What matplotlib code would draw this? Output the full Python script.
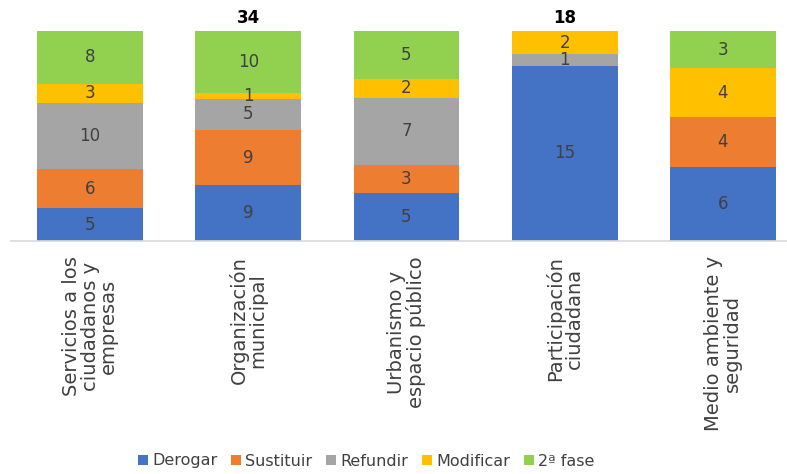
import matplotlib

matplotlib.use("Agg")
import matplotlib.pyplot as plt
import numpy as np

plt.rcParams["font.family"] = ["DejaVu Sans"]

categories = [
    "Servicios a los\nciudadanos y\nempresas",
    "Organización\nmunicipal",
    "Urbanismo y\nespacio público",
    "Participación\nciudadana",
    "Medio ambiente y\nseguridad",
]
series = ["Derogar", "Sustituir", "Refundir", "Modificar", "2ª fase"]
derogar = [5, 9, 5, 15, 6]
sustituir = [6, 9, 3, 0, 4]
refundir = [10, 5, 7, 1, 0]
modificar = [3, 1, 2, 2, 4]
segunda_fase = [8, 10, 5, 0, 3]
show_total = [False, True, False, True, False]

COLORS = ["#4472C4", "#ED7D31", "#A5A5A5", "#FFC000", "#92D050"]
TEXT = "#404040"

values = np.array([derogar, sustituir, refundir, modificar, segunda_fase], dtype=float)
totals = values.sum(axis=0)
pct = values / totals * 100

fig = plt.figure(figsize=(7.87, 4.74), dpi=100)
ax = fig.add_axes([11 / 787, 233 / 474, 791 / 787, 210 / 474])

x = np.arange(len(categories))
bottom = np.zeros(len(categories))
for i, name in enumerate(series):
    bars = ax.bar(x, pct[i], bottom=bottom, width=0.67, color=COLORS[i], label=name)
    for j, b in enumerate(bars):
        if values[i, j] > 0:
            ax.text(b.get_x() + b.get_width() / 2, bottom[j] + pct[i, j] / 2,
                    f"{values[i, j]:.0f}", ha="center", va="center",
                    fontsize=12, color=TEXT)
    bottom += pct[i]

for j, flag in enumerate(show_total):
    if flag:
        ax.annotate(f"{totals[j]:.0f}", (x[j], 100), xytext=(0, 3),
                    textcoords="offset points", ha="center", va="bottom",
                    fontsize=12, fontweight="bold", color="black")

ax.set_xlim(-0.5, len(categories) - 0.5)
ax.set_ylim(0, 100)
ax.set_yticks([])
ax.set_xticks(x, categories, rotation=90, ha="center", va="top",
              multialignment="center", fontsize=14, color=TEXT, linespacing=0.95)
ax.tick_params(axis="x", length=0, pad=11)
for side in ("top", "right", "left"):
    ax.spines[side].set_visible(False)
ax.spines["bottom"].set_color("#D9D9D9")
ax.spines["bottom"].set_linewidth(1.2)

fig.legend(loc="center", bbox_to_anchor=(0.465, 13 / 474), ncol=5, frameon=False,
           fontsize=11.5, handlelength=0.65, handleheight=0.65, handletextpad=0.25,
           columnspacing=0.85, labelcolor=TEXT)

fig.savefig("out.png", dpi=100)
